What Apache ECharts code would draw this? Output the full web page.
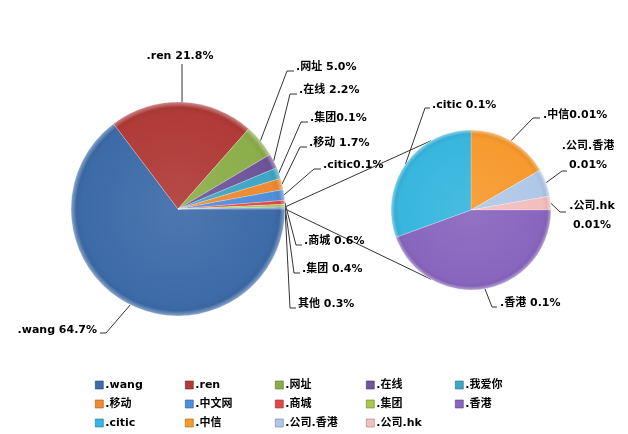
<!DOCTYPE html>
<html><head><meta charset="utf-8">
<script src="https://cdn.jsdelivr.net/npm/echarts@6/dist/echarts.min.js"></script>
<style>html,body{margin:0;padding:0;background:#fff}#c{width:628px;height:434px}</style>
</head><body><div id="c"></div><script>
// ---- data ----
const mainNames  = ['.wang','.ren','.网址','.在线','.我爱你','.移动','.中文网','.商城','.集团','其他'];
const mainValues = [64.7, 21.8, 5.0, 2.2, 1.7, 1.7, 1.6, 0.6, 0.4, 0.3];
const mainLabels = ['.wang 64.7%','.ren 21.8%','.网址 5.0%','.在线 2.2%','.集团0.1%','.移动 1.7%','.citic0.1%','.商城 0.6%','.集团 0.4%','其他 0.3%'];
const subNames   = ['.中信','.公司.香港','.公司.hk','.香港','.citic'];
const subValues  = [6, 2, 1, 16, 11];
const subLabels  = ['.中信0.01%','.公司.香港\n0.01%','.公司.hk\n0.01%','.香港 0.1%','.citic 0.1%'];
const legendCols = [
  ['.wang','.移动','.citic'],
  ['.ren','.中文网','.中信'],
  ['.网址','.商城','.公司.香港'],
  ['.在线','.集团','.公司.hk'],
  ['.我爱你','.香港']
];

// ---- styling / layout ----
const colors = {
  '.wang':'#3D6BA8','.ren':'#B03B38','.网址':'#8CAE4A','.在线':'#6E559A','.我爱你':'#3FA6C4',
  '.移动':'#EE8A32','.中文网':'#4F8FDA','.商城':'#E04848','.集团':'#A8C850','其他':'#7CA0D0',
  '.中信':'#F79A2E','.公司.香港':'#B0C8E8','.公司.hk':'#F2BEBE','.香港':'#8866BE','.citic':'#38B6DE'
};
const FONT = "'DejaVu Sans','Noto Sans CJK SC',sans-serif";
const M = {cx:178, cy:209, r:107};
const S = {cx:471, cy:210, r:80};
// x, y, align, elbowX, elbowY, endX, endY
const mainLab = [
  [97,330,'right',106,333,100,333],
  [180,56,'center',182,64,182,64],
  [296,67,'left',287,71,294,71],
  [299,90,'left',290,94,297,94],
  [310,118,'left',301,122,308,122],
  [309,143,'left',300,147,307,147],
  [323,165,'left',314,169,321,169],
  [304,241,'left',296,245,302,245],
  [302,269,'left',294,273,300,273],
  [298,304,'left',290,308,296,308]
];
const subLab = [
  [543,115,'left',533,118,540,118],
  [588,156,'center',562,171,567,171],
  [592,216,'center',560,212,566,212],
  [500,303,'left',492,307,497,307],
  [432,105,'left',425,108,430,108]
];

function mix(hex, t, to){
  const n = parseInt(hex.slice(1),16);
  let r=(n>>16)&255,g=(n>>8)&255,b=n&255;
  const w = to==='w'?255:0;
  r=Math.round(r+(w-r)*t);g=Math.round(g+(w-g)*t);b=Math.round(b+(w-b)*t);
  return 'rgb('+r+','+g+','+b+')';
}
function grad(P, base){
  return {type:'radial', x:P.cx, y:P.cy, r:P.r, global:true, colorStops:[
    {offset:0,color:mix(base,0.08,'w')},
    {offset:0.9,color:base},
    {offset:0.95,color:mix(base,0.05,'b')},
    {offset:1,color:mix(base,0.4,'w')}
  ]};
}
function sum(a){return a.reduce((s,v)=>s+v,0);}
function mainEdge(i){
  const tot = sum(mainValues);
  const c0 = sum(mainValues.slice(0,i));
  const a = (c0 + mainValues[i]/2)/tot*2*Math.PI;
  return [M.cx + M.r*Math.cos(a), M.cy + M.r*Math.sin(a)];
}
function subEdge(i){
  const tot = sum(subValues);
  const c0 = sum(subValues.slice(0,i));
  const a = Math.PI/2 - (c0 + subValues[i]/2)/tot*2*Math.PI;
  return [S.cx + S.r*Math.cos(a), S.cy - S.r*Math.sin(a)];
}
const totM = sum(mainValues);
const otherStart = (totM - mainValues[mainValues.length-1])/totM*2*Math.PI;
const p1 = [M.cx + M.r*Math.cos(otherStart), M.cy + M.r*Math.sin(otherStart)];
const p2 = [M.cx + M.r, M.cy];
const q1 = [S.cx + S.r*Math.cos(2*Math.PI/3), S.cy - S.r*Math.sin(2*Math.PI/3)];
const q2 = [S.cx + S.r*Math.cos(-2*Math.PI/3), S.cy - S.r*Math.sin(-2*Math.PI/3)];

const labelText = {fontSize:11, fontWeight:'bold', fontFamily:FONT, color:'#000', lineHeight:19};

const chart = echarts.init(document.getElementById('c'));
chart.setOption({
  backgroundColor:'#fff',
  animation:false,
  graphic:[
    {type:'line', z:0, shape:{x1:p1[0],y1:p1[1],x2:q1[0],y2:q1[1]}, style:{stroke:'#333',lineWidth:1}},
    {type:'line', z:0, shape:{x1:p2[0],y1:p2[1],x2:q2[0],y2:q2[1]}, style:{stroke:'#333',lineWidth:1}}
  ],
  legend: legendCols.map((col,k)=>({
    orient:'vertical', left:[95,185,275,366,455][k], top:379, padding:0,
    itemWidth:8, itemHeight:8, itemGap:7, icon:'rect', selectedMode:false,
    data: col.map(n=>({name:n, itemStyle:{color:colors[n], borderColor:mix(colors[n],0.35,'b'), borderWidth:0.6}})),
    textStyle:{fontSize:11, fontWeight:'bold', fontFamily:FONT, color:'#000', lineHeight:12, padding:[0,0,0,-3]}
  })),
  series:[
    {
      type:'pie', center:[M.cx,M.cy], radius:M.r, startAngle:0, clockwise:true,
      avoidLabelOverlap:false, z:3,
      data: mainNames.map((n,i)=>({name:n, value:mainValues[i],
        itemStyle:{color:grad(M,colors[n])},
        label:{formatter:mainLabels[i]}})),
      itemStyle:{borderColor:'rgba(255,255,255,0.45)', borderWidth:0.5},
      label:Object.assign({show:true, position:'outside'}, labelText),
      labelLine:{show:true, length:5, length2:5, lineStyle:{color:'#333', width:1}},
      labelLayout:function(p){
        const L = mainLab[p.dataIndex];
        return {x:L[0], y:L[1], align:L[2], verticalAlign:'middle',
          labelLinePoints:[mainEdge(p.dataIndex),[L[3],L[4]],[L[5],L[6]]]};
      },
      emphasis:{disabled:true}
    },
    {
      type:'pie', center:[S.cx,S.cy], radius:S.r, startAngle:90, clockwise:true,
      avoidLabelOverlap:false, z:3,
      data: subNames.map((n,i)=>({name:n, value:subValues[i],
        itemStyle:{color:grad(S,colors[n])},
        label:{formatter:subLabels[i]}})),
      itemStyle:{borderColor:'rgba(255,255,255,0.45)', borderWidth:0.5},
      label:Object.assign({show:true, position:'outside'}, labelText),
      labelLine:{show:true, length:5, length2:5, lineStyle:{color:'#333', width:1}},
      labelLayout:function(p){
        const L = subLab[p.dataIndex];
        return {x:L[0], y:L[1], align:L[2], verticalAlign:'middle',
          labelLinePoints:[subEdge(p.dataIndex),[L[3],L[4]],[L[5],L[6]]]};
      },
      emphasis:{disabled:true}
    }
  ]
});
</script></body></html>
